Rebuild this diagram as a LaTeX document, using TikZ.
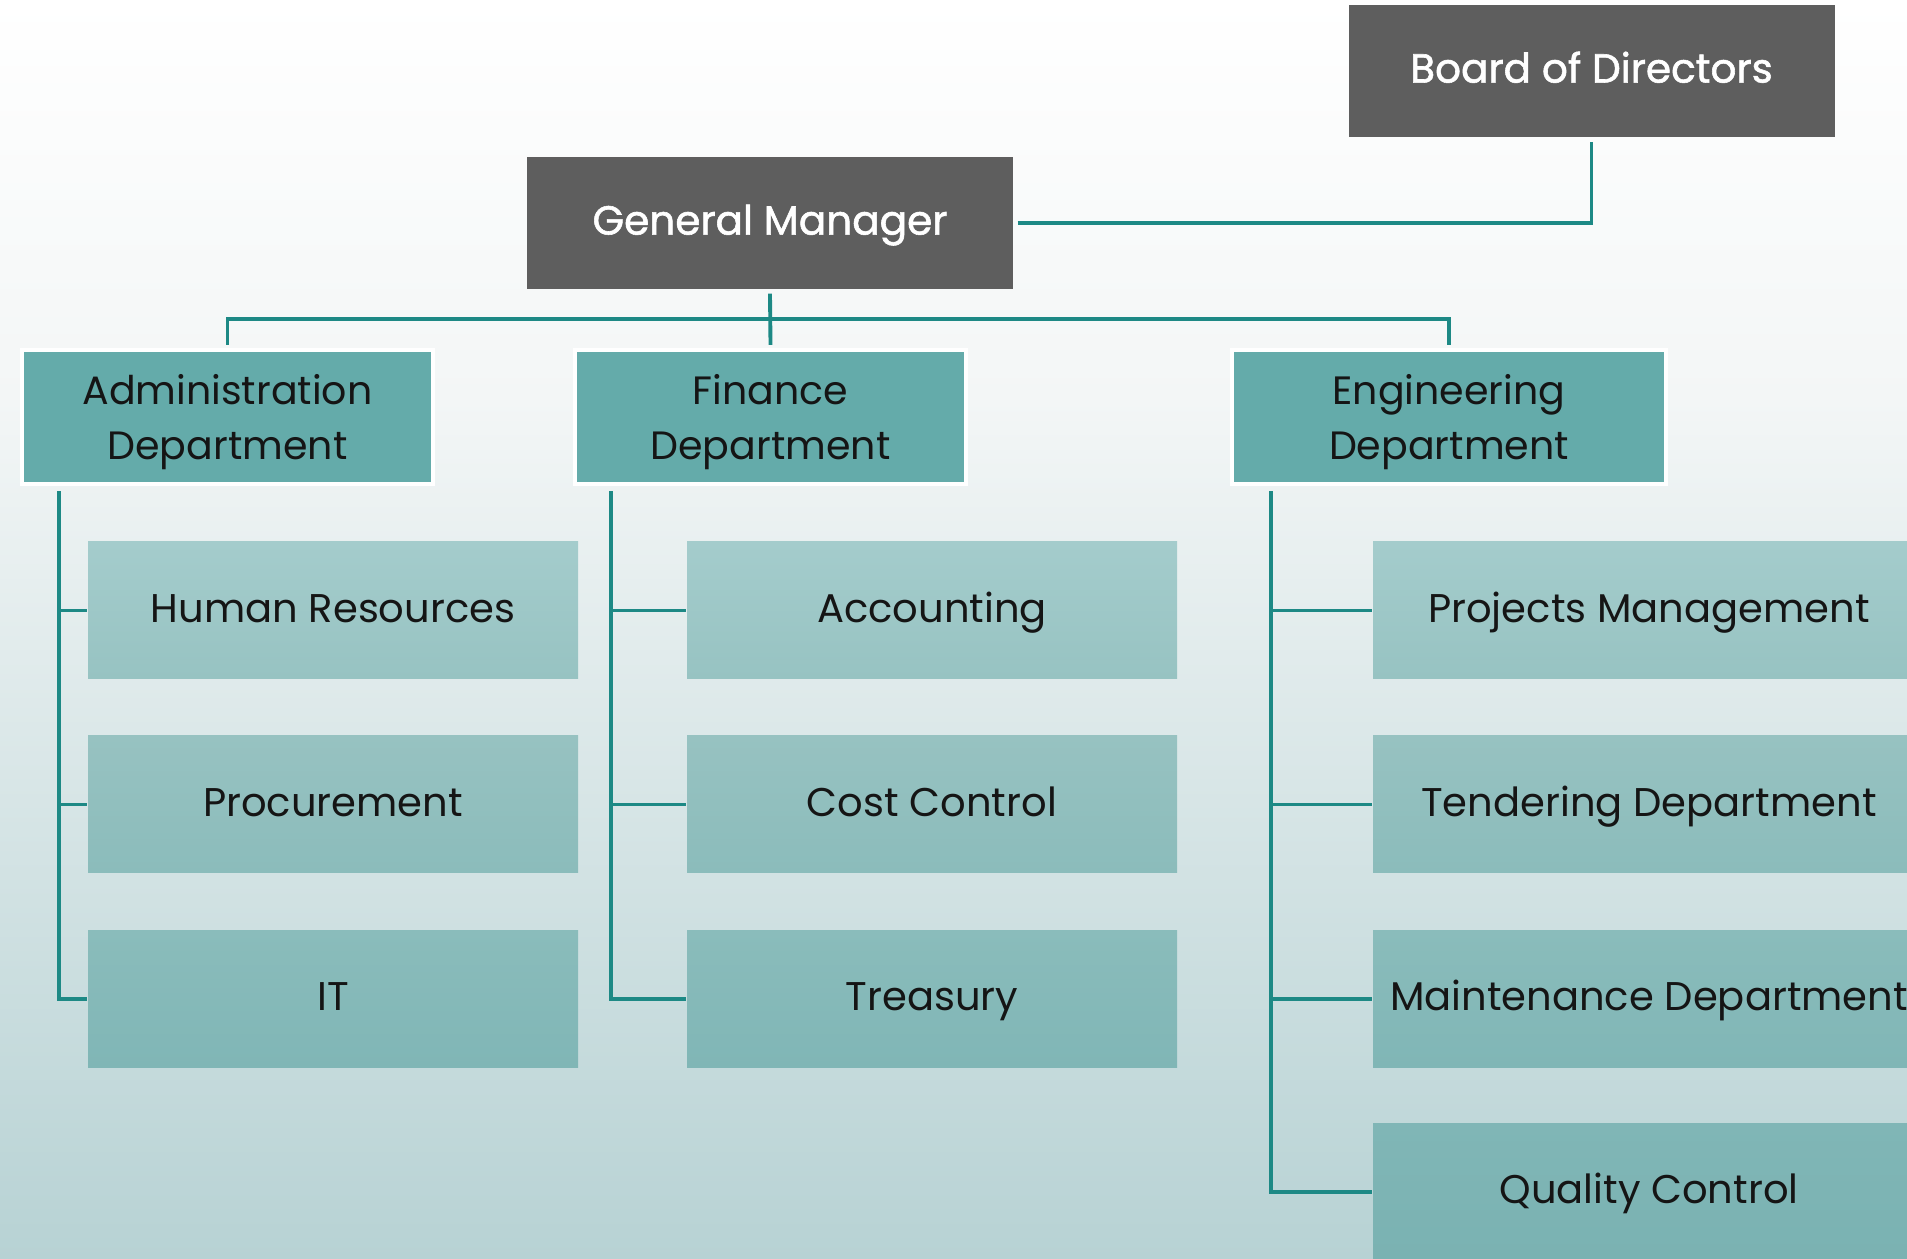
\documentclass[tikz,border=0pt]{standalone}
\usepackage{fontspec}
\setmainfont{Poppins}
\newfontfamily\headfont{Poppins}[FakeBold=1.4]
\usepackage{xcolor}
\usepackage{tikz}
\usetikzlibrary{positioning,calc}

\definecolor{boxgray}{HTML}{5E5E5E}
\definecolor{deptteal}{HTML}{64ABAA}
\definecolor{linkteal}{HTML}{1D8985}
\definecolor{bgmid}{HTML}{F3F6F6}
\definecolor{bgbot}{HTML}{B7D2D4}
\definecolor{inktext}{HTML}{151515}
\definecolor{rowAtop}{HTML}{A4CCCC}
\definecolor{rowAbot}{HTML}{97C3C2}
\definecolor{rowBtop}{HTML}{97C2C1}
\definecolor{rowBbot}{HTML}{8BBCBB}
\definecolor{rowCtop}{HTML}{8ABCBB}
\definecolor{rowCbot}{HTML}{80B6B6}
\definecolor{rowDtop}{HTML}{80B6B6}
\definecolor{rowDbot}{HTML}{7AB2B2}

\begin{document}
\begin{tikzpicture}[
    head/.style={fill=boxgray, text=white, minimum width=4.86cm, minimum height=1.32cm,
      inner sep=0pt, text height=0.66em, text depth=0pt,
      font=\headfont\fontsize{11.55}{14}\selectfont},
    dept/.style={fill=deptteal, draw=white, line width=1.2pt, minimum height=1.34cm,
      inner sep=0pt, align=center, text=inktext, text depth=0pt,
      font=\fontsize{11.25}{15.5}\selectfont},
    unit/.style={minimum width=4.9cm, minimum height=1.37cm, inner sep=0pt,
      text height=0.66em, text depth=0pt, text=inktext,
      font=\fontsize{11.4}{14}\selectfont},
    rowA/.style={unit, top color=rowAtop, bottom color=rowAbot},
    rowB/.style={unit, top color=rowBtop, bottom color=rowBbot},
    rowC/.style={unit, top color=rowCtop, bottom color=rowCbot},
    rowD/.style={unit, top color=rowDtop, bottom color=rowDbot},
    link/.style={draw=linkteal, line width=1.1pt}
  ]
    % Background
    \clip (0,0) rectangle (19.07,12.59);
    \shade[top color=white, bottom color=bgmid] (0,8.59) rectangle (19.07,12.6);
    \shade[top color=bgmid, bottom color=bgbot] (0,0) rectangle (19.07,8.6);

    % Top level
    \node[head] (bod) at (15.915,11.88) {Board of Directors};
    \node[head] (gm) at (7.70,10.36) {General Manager};

    % Departments
    \node[dept, minimum width=4.11cm] (adm) at (2.275,8.42) {Administration\\Department};
    \node[dept, minimum width=3.91cm] (fin) at (7.705,8.42) {Finance\\Department};
    \node[dept, minimum width=4.34cm] (eng) at (14.49,8.42) {Engineering\\Department};

    % Administration units
    \node[rowA] (hr) at (3.33,6.485) {Human Resources};
    \node[rowB] (proc) at (3.33,4.545) {Procurement};
    \node[rowC] (it) at (3.33,2.60) {IT};

    % Finance units
    \node[rowA] (acc) at (9.32,6.485) {Accounting};
    \node[rowB] (cost) at (9.32,4.545) {Cost Control};
    \node[rowC] (treas) at (9.32,2.60) {Treasury};

    % Engineering units
    \node[rowA, minimum width=5.52cm] (proj) at (16.49,6.485) {Projects Management};
    \node[rowB, minimum width=5.52cm] (tend) at (16.49,4.545) {Tendering Department};
    \node[rowC, minimum width=5.52cm] (maint) at (16.49,2.60) {Maintenance Department};
    \node[rowD, minimum width=5.52cm] (qual) at (16.49,0.67) {Quality Control};

    % Board to manager
    \draw[link] ([xshift=0.04cm]gm.east) -| ([yshift=-0.04cm]bod.south);

    % Manager to departments
    \coordinate (bus) at ($(gm.south)!0.5!(fin.north)$);
    \draw[link] ([yshift=-0.04cm]gm.south) -- ([yshift=0.03cm]fin.north);
    \draw[link] ([yshift=0.03cm]adm.north) |- (bus) -| ([yshift=0.03cm]eng.north);

    % Departments to units
    \coordinate (admtrunk) at ([shift={(0.39,-0.05)}]adm.south west);
    \coordinate (fintrunk) at ([shift={(0.38,-0.05)}]fin.south west);
    \coordinate (engtrunk) at ([shift={(0.41,-0.05)}]eng.south west);
    \foreach \u in {hr,proc,it}
      \draw[link] (admtrunk) |- (\u.west);
    \foreach \u in {acc,cost,treas}
      \draw[link] (fintrunk) |- (\u.west);
    \foreach \u in {proj,tend,maint,qual}
      \draw[link] (engtrunk) |- (\u.west);
\end{tikzpicture}
\end{document}
